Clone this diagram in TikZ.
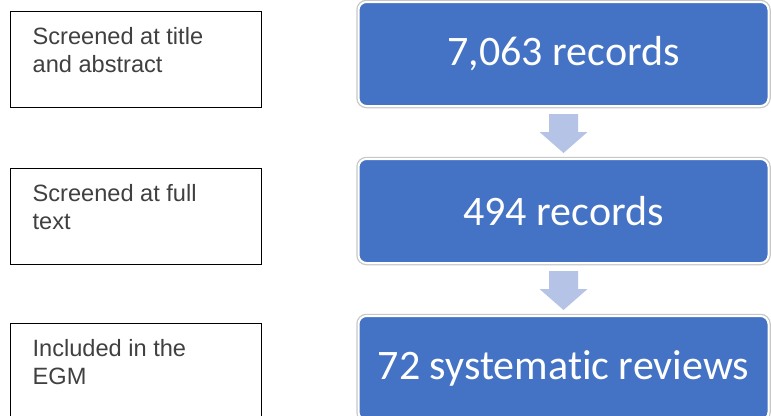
\documentclass[tikz,border=0pt]{standalone}
\usepackage{fontspec}
\setmainfont{Liberation Sans}
\newfontfamily\calib[Ligatures=NoCommon]{Carlito}
\usetikzlibrary{calc}
\definecolor{boxblue}{HTML}{4472C4}
\definecolor{arrowblue}{HTML}{B4C3E6}
\definecolor{txtgray}{HTML}{404040}
% text of the left boxes sits at the top
\newcommand{\lbl}[1]{\parbox[b][96pt][t]{251pt}{\leftskip=22pt\vspace*{16pt}#1}}

\begin{document}
\begin{tikzpicture}[
  x=1pt, y=-1pt,
  lbox/.style={draw, line width=1.3pt, anchor=north west, inner sep=0pt,
               font=\fontsize{23.6}{28}\selectfont, text=txtgray},
  bbox/.style={fill=boxblue, draw=white, line width=2pt, rounded corners=8pt,
               minimum width=410pt, minimum height=104pt, text=white,
               font=\calib\fontsize{42}{50}\selectfont,
               preaction={draw=black!22, line width=4.5pt}},
  barr/.style={fill=arrowblue}
]
\path[use as bounding box, clip] (0,0) rectangle (771,415);

\node[bbox] (n1) at (563.5,54) {7,063 records};
\node[bbox] (n2) at (563.5,211) {494 records};
\node[bbox] (n3) at (563.5,368) {72 systematic reviews};

\node[lbox] (s1) at (10,11) {\lbl{Screened at title\\and abstract}};
\node[lbox] (s2) at (10,168) {\lbl{Screened at full\\text}};
\node[lbox] (s3) at (10,323) {\lbl{Included in the\\EGM}};

% block arrows between the counts
\foreach \a/\b in {n1/n2, n2/n3} {
  \fill[barr] ($(\a.south)+(-14.5,7)$) -- ($(\a.south)+(14.5,7)$)
    -- ($(\a.south)+(14.5,25)$) -- ($(\a.south)+(24,25)$)
    -- ($(\b.north)+(0,-5)$)
    -- ($(\a.south)+(-24,25)$) -- ($(\a.south)+(-14.5,25)$) -- cycle;
}
\end{tikzpicture}
\end{document}
